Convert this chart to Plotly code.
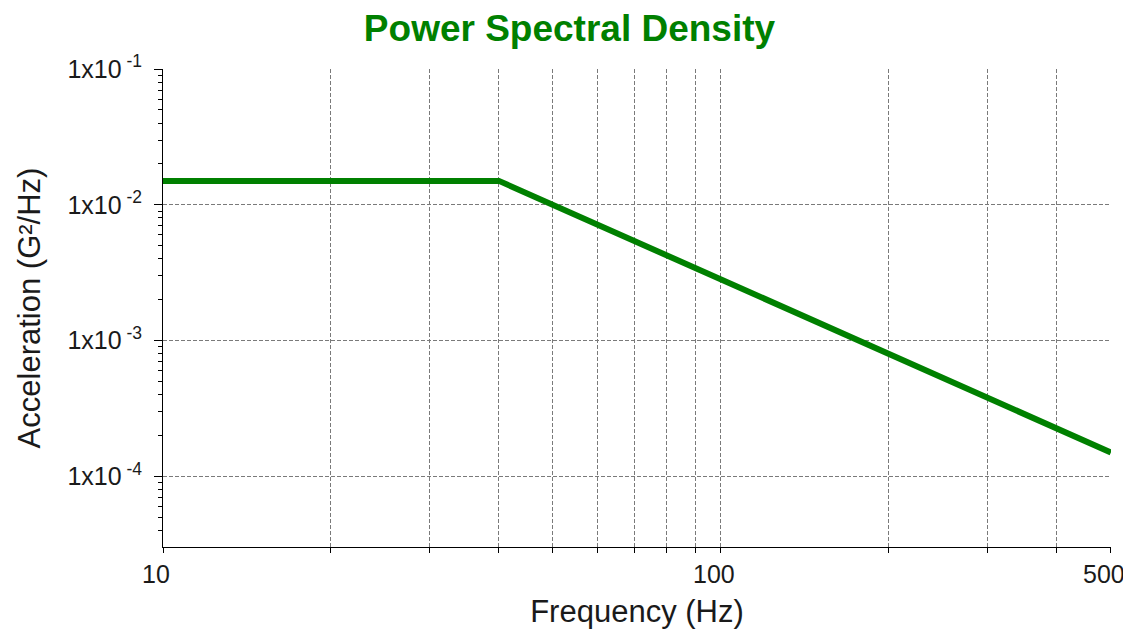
import plotly.graph_objects as go

# PSD breakpoints
freq_hz = [10, 40, 500]
accel_g2hz = [0.015, 0.015, 0.00015]

x_tick_vals = [10, 20, 30, 40, 50, 60, 70, 80, 90, 100, 200, 300, 400, 500]
x_tick_text = ["10", "", "", "", "", "", "", "", "", "100", "", "", "", "500"]

y_tick_vals = [1e-1, 1e-2, 1e-3, 1e-4]
y_tick_text = ["1x10<sup> -1</sup> ", "1x10<sup> -2</sup> ", "1x10<sup> -3</sup> ", "1x10<sup> -4</sup> "]
y_minor_vals = [m * 10.0 ** e for e in (-5, -4, -3, -2) for m in range(2, 10)]

GREEN = "#008000"
GRID = "#7a7a7a"
FONT = "Liberation Sans, Arial, sans-serif"

fig = go.Figure(
    data=[
        go.Scatter(
            x=freq_hz,
            y=accel_g2hz,
            mode="lines",
            line=dict(color=GREEN, width=6),
            hovertemplate="%{x} Hz: %{y:.2e} G²/Hz<extra></extra>",
        )
    ]
)

# page body adds an 8px offset, so sizes/margins are trimmed to land on the same pixels
fig.update_layout(
    width=1123,
    height=621,
    margin=dict(l=155, r=20, t=61, b=82),
    showlegend=False,
    plot_bgcolor="white",
    paper_bgcolor="white",
    font=dict(family=FONT, color="#1A1A1A"),
    title=dict(
        text="<b>Power Spectral Density</b>",
        x=0.5,
        xanchor="center",
        y=0.968,
        yanchor="middle",
        font=dict(size=37, color=GREEN, family=FONT),
    ),
    xaxis=dict(
        type="log",
        range=[1, 2.6992],
        tickmode="array",
        tickvals=x_tick_vals,
        ticktext=x_tick_text,
        ticks="outside",
        ticklen=5,
        tickcolor="black",
        tickfont=dict(size=25),
        ticklabelshift=-7,
        ticklabeloverflow="allow",
        automargin=False,
        showline=True,
        linecolor="black",
        linewidth=1,
        showgrid=True,
        gridcolor=GRID,
        gridwidth=1,
        griddash="4px,2px",
        zeroline=False,
        title=dict(text="Frequency (Hz)", font=dict(size=31), standoff=14),
    ),
    yaxis=dict(
        type="log",
        range=[-4.52, -1],
        tickmode="array",
        tickvals=y_tick_vals,
        ticktext=y_tick_text,
        ticks="outside",
        ticklen=8,
        tickcolor="black",
        tickfont=dict(size=25),
        automargin=False,
        showline=True,
        linecolor="black",
        linewidth=1,
        showgrid=True,
        gridcolor=GRID,
        gridwidth=1,
        griddash="4px,2px",
        zeroline=False,
        minor=dict(
            tickmode="array",
            tickvals=y_minor_vals,
            ticks="outside",
            ticklen=4,
            tickcolor="black",
            showgrid=False,
        ),
        title=dict(text="Acceleration (G²/Hz)", font=dict(size=31), standoff=17),
    ),
)

fig.write_html("out.html")
